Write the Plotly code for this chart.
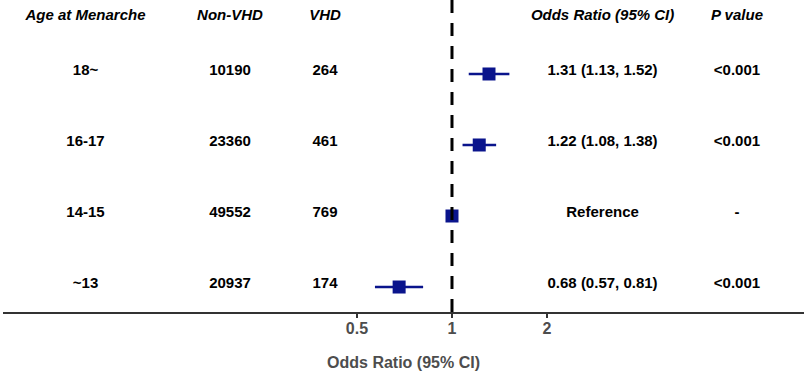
import plotly.graph_objects as go

# ---- data ----
groups = ["18~", "16-17", "14-15", "~13"]
non_vhd = [10190, 23360, 49552, 20937]
vhd = [264, 461, 769, 174]
odds_ratio = [1.31, 1.22, 1.00, 0.68]
ci_low = [1.13, 1.08, None, 0.57]
ci_high = [1.52, 1.38, None, 0.81]
or_labels = ["1.31 (1.13, 1.52)", "1.22 (1.08, 1.38)", "Reference", "0.68 (0.57, 0.81)"]
p_values = ["<0.001", "<0.001", "-", "<0.001"]
headers = ["Age at Menarche", "Non-VHD", "VHD", "Odds Ratio (95% CI)", "P value"]
tick_vals = [0.5, 1, 2]
tick_text = ["0.5", "1", "2"]

# ---- layout helpers (positions on the OR axis where text columns sit) ----
col_x = [0.069, 0.198, 0.396, 3.0, 8.0]
row_y = [4, 3, 2, 1]
text_dy = 0.035
header_y = 4.82
y_range = [0.648, 5.042]
x_range_log = [-1.4227, 1.1154]

NAVY = "#0A148C"
FONT = "Liberation Sans, Arial, sans-serif"

fig = go.Figure()

# CI lines
for y, lo, hi in zip(row_y, ci_low, ci_high):
    if lo is None:
        continue
    fig.add_trace(go.Scatter(x=[lo, hi], y=[y, y], mode="lines",
                             line=dict(color=NAVY, width=2.6),
                             hoverinfo="skip", showlegend=False))

# point estimates
fig.add_trace(go.Scatter(x=odds_ratio, y=row_y, mode="markers",
                         marker=dict(symbol="square", size=13, color=NAVY,
                                     line=dict(width=0)),
                         showlegend=False))

# reference line
fig.add_trace(go.Scatter(x=[1, 1], y=[y_range[0], y_range[1] + 0.2], mode="lines",
                         line=dict(color="black", width=3, dash="13px,10px"),
                         hoverinfo="skip", showlegend=False))

# text columns
columns = [groups, [str(v) for v in non_vhd], [str(v) for v in vhd], or_labels, p_values]
for cx, col in zip(col_x, columns):
    fig.add_trace(go.Scatter(x=[cx] * len(col), y=[y + text_dy for y in row_y],
                             mode="text", text=col, textposition="middle center",
                             textfont=dict(family=FONT, size=15, color="black", weight="bold"),
                             hoverinfo="skip", showlegend=False))

# headers
fig.add_trace(go.Scatter(x=col_x, y=[header_y] * len(headers), mode="text",
                         text=headers, textposition="middle center",
                         textfont=dict(family=FONT, size=15, color="black",
                                       weight="bold", style="italic"),
                         hoverinfo="skip", showlegend=False))

fig.update_layout(
    width=810, height=375,
    margin=dict(l=3, r=6, t=0, b=63, autoexpand=False),
    paper_bgcolor="white", plot_bgcolor="white",
    font=dict(family=FONT),
    xaxis=dict(type="log", range=x_range_log, tickvals=tick_vals, ticktext=tick_text,
               automargin=False,
               showgrid=False, zeroline=False, showline=True, linecolor="#333333",
               linewidth=2, ticks="outside", ticklen=4, tickwidth=1.5, tickcolor="#333333",
               ticklabelstandoff=-3,
               tickfont=dict(family=FONT, size=16, color="#4D4D4D", weight="bold"),
               title=dict(text="Odds Ratio (95% CI)", standoff=21,
                          font=dict(family=FONT, size=16, color="#4D4D4D", weight="bold"))),
    yaxis=dict(range=y_range, visible=False, showgrid=False, zeroline=False, automargin=False),
)

fig.write_html("out.html", config={"displayModeBar": False},
               post_script="document.body.style.margin='0px';")
